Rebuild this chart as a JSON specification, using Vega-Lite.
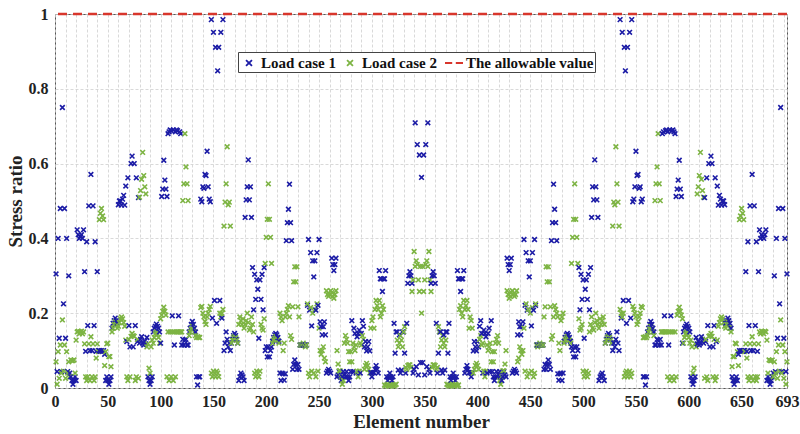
{
"$schema":"https://vega.github.io/schema/vega-lite/v6.json",
"width":732,"height":374,
"autosize":{"type":"none"},
"padding":{"left":55,"top":14,"right":13,"bottom":46},
"config":{"view":{"stroke":"#555","strokeWidth":1},"font":"Liberation Serif"},
"layer":[
{"data":{"values":[
{"e":1,"a":0.305,"b":0.07},{"e":2,"a":0.044,"b":0.01},{"e":3,"a":0.4,"b":0.097},{"e":4,"a":0.133,"b":0.026},{"e":5,"a":0.48,"b":0.115},{"e":6,"a":0.044,"b":0.04},{"e":7,"a":0.75,"b":0.182},{"e":8,"a":0.225,"b":0.045},{"e":9,"a":0.48,"b":0.115},{"e":10,"a":0.133,"b":0.026},
{"e":11,"a":0.4,"b":0.097},{"e":12,"a":0.044,"b":0.04},{"e":13,"a":0.3,"b":0.07},{"e":14,"a":0.04,"b":0.03},{"e":15,"a":0.03,"b":0.075},{"e":16,"a":0.02,"b":0.073},{"e":17,"a":0.01,"b":0.073},{"e":18,"a":0.02,"b":0.075},{"e":19,"a":0.03,"b":0.04},{"e":20,"a":0.02,"b":0.128},
{"e":21,"a":0.423,"b":0.15},{"e":22,"a":0.41,"b":0.152},{"e":23,"a":0.4,"b":0.145},{"e":24,"a":0.405,"b":0.15},{"e":25,"a":0.41,"b":0.152},{"e":26,"a":0.4,"b":0.145},{"e":27,"a":0.423,"b":0.15},{"e":28,"a":0.311,"b":0.118},{"e":29,"a":0.098,"b":0.03},{"e":30,"a":0.391,"b":0.02},
{"e":31,"a":0.167,"b":0.03},{"e":32,"a":0.487,"b":0.118},{"e":33,"a":0.1,"b":0.02},{"e":34,"a":0.571,"b":0.137},{"e":35,"a":0.1,"b":0.03},{"e":36,"a":0.487,"b":0.118},{"e":37,"a":0.167,"b":0.02},{"e":38,"a":0.391,"b":0.03},{"e":39,"a":0.098,"b":0.08},{"e":40,"a":0.311,"b":0.118},
{"e":41,"a":0.1,"b":0.097},{"e":42,"a":0.1,"b":0.45},{"e":43,"a":0.098,"b":0.467},{"e":44,"a":0.1,"b":0.48},{"e":45,"a":0.098,"b":0.46},{"e":46,"a":0.1,"b":0.45},{"e":47,"a":0.09,"b":0.06},{"e":48,"a":0.02,"b":0.097},{"e":49,"a":0.03,"b":0.118},{"e":50,"a":0.02,"b":0.12},
{"e":51,"a":0.01,"b":0.084},{"e":52,"a":0.02,"b":0.084},{"e":53,"a":0.03,"b":0.057},{"e":54,"a":0.16,"b":0.15},{"e":55,"a":0.173,"b":0.16},{"e":56,"a":0.18,"b":0.17},{"e":57,"a":0.187,"b":0.178},{"e":58,"a":0.18,"b":0.17},{"e":59,"a":0.173,"b":0.16},{"e":60,"a":0.49,"b":0.165},
{"e":61,"a":0.5,"b":0.175},{"e":62,"a":0.5,"b":0.185},{"e":63,"a":0.489,"b":0.19},{"e":64,"a":0.505,"b":0.185},{"e":65,"a":0.515,"b":0.175},{"e":66,"a":0.489,"b":0.165},{"e":67,"a":0.54,"b":0.128},{"e":68,"a":0.124,"b":0.03},{"e":69,"a":0.562,"b":0.02},{"e":70,"a":0.167,"b":0.13},
{"e":71,"a":0.11,"b":0.03},{"e":72,"a":0.6,"b":0.138},{"e":73,"a":0.62,"b":0.146},{"e":74,"a":0.11,"b":0.14},{"e":75,"a":0.6,"b":0.138},{"e":76,"a":0.167,"b":0.02},{"e":77,"a":0.562,"b":0.03},{"e":78,"a":0.124,"b":0.13},{"e":79,"a":0.509,"b":0.026},{"e":80,"a":0.12,"b":0.51},
{"e":81,"a":0.13,"b":0.528},{"e":82,"a":0.137,"b":0.558},{"e":83,"a":0.12,"b":0.63},{"e":84,"a":0.115,"b":0.568},{"e":85,"a":0.125,"b":0.538},{"e":86,"a":0.118,"b":0.519},{"e":87,"a":0.135,"b":0.11},{"e":88,"a":0.03,"b":0.118},{"e":89,"a":0.02,"b":0.053},{"e":90,"a":0.01,"b":0.04},
{"e":91,"a":0.02,"b":0.11},{"e":92,"a":0.03,"b":0.128},{"e":93,"a":0.15,"b":0.12},{"e":94,"a":0.16,"b":0.135},{"e":95,"a":0.165,"b":0.145},{"e":96,"a":0.171,"b":0.15},{"e":97,"a":0.165,"b":0.145},{"e":98,"a":0.16,"b":0.135},{"e":99,"a":0.15,"b":0.12},{"e":100,"a":0.12,"b":0.185},
{"e":101,"a":0.512,"b":0.195},{"e":102,"a":0.532,"b":0.205},{"e":103,"a":0.609,"b":0.216},{"e":104,"a":0.556,"b":0.205},{"e":105,"a":0.532,"b":0.195},{"e":106,"a":0.512,"b":0.03},{"e":107,"a":0.68,"b":0.15},{"e":108,"a":0.685,"b":0.02},{"e":109,"a":0.69,"b":0.15},{"e":110,"a":0.688,"b":0.03},
{"e":111,"a":0.193,"b":0.15},{"e":112,"a":0.69,"b":0.02},{"e":113,"a":0.115,"b":0.15},{"e":114,"a":0.685,"b":0.03},{"e":115,"a":0.69,"b":0.15},{"e":116,"a":0.688,"b":0.15},{"e":117,"a":0.193,"b":0.15},{"e":118,"a":0.685,"b":0.15},{"e":119,"a":0.68,"b":0.15},{"e":120,"a":0.115,"b":0.15},
{"e":121,"a":0.13,"b":0.501},{"e":122,"a":0.115,"b":0.546},{"e":123,"a":0.128,"b":0.68},{"e":124,"a":0.13,"b":0.591},{"e":125,"a":0.115,"b":0.546},{"e":126,"a":0.115,"b":0.501},{"e":127,"a":0.15,"b":0.14},{"e":128,"a":0.16,"b":0.15},{"e":129,"a":0.17,"b":0.158},{"e":130,"a":0.178,"b":0.165},
{"e":131,"a":0.17,"b":0.158},{"e":132,"a":0.16,"b":0.15},{"e":133,"a":0.15,"b":0.14},{"e":134,"a":0.03,"b":0.135},{"e":135,"a":0.008,"b":0.137},{"e":136,"a":0.03,"b":0.135},{"e":137,"a":0.03,"b":0.135},{"e":138,"a":0.505,"b":0.215},{"e":139,"a":0.498,"b":0.218},{"e":140,"a":0.538,"b":0.2},
{"e":141,"a":0.534,"b":0.19},{"e":142,"a":0.571,"b":0.178},{"e":143,"a":0.568,"b":0.17},{"e":144,"a":0.633,"b":0.19},{"e":145,"a":0.538,"b":0.2},{"e":146,"a":0.505,"b":0.21},{"e":147,"a":0.498,"b":0.218},{"e":148,"a":0.985,"b":0.04},{"e":149,"a":0.187,"b":0.03},{"e":150,"a":0.951,"b":0.045},
{"e":151,"a":0.234,"b":0.04},{"e":152,"a":0.911,"b":0.03},{"e":153,"a":0.173,"b":0.045},{"e":154,"a":0.848,"b":0.04},{"e":155,"a":0.911,"b":0.03},{"e":156,"a":0.234,"b":0.2},{"e":157,"a":0.951,"b":0.19},{"e":158,"a":0.187,"b":0.2},{"e":159,"a":0.985,"b":0.21},{"e":160,"a":0.1,"b":0.433},
{"e":161,"a":0.12,"b":0.497},{"e":162,"a":0.15,"b":0.546},{"e":163,"a":0.13,"b":0.645},{"e":164,"a":0.11,"b":0.49},{"e":165,"a":0.12,"b":0.497},{"e":166,"a":0.1,"b":0.433},{"e":167,"a":0.12,"b":0.12},{"e":168,"a":0.13,"b":0.128},{"e":169,"a":0.14,"b":0.135},{"e":170,"a":0.146,"b":0.138},
{"e":171,"a":0.14,"b":0.135},{"e":172,"a":0.13,"b":0.128},{"e":173,"a":0.12,"b":0.12},{"e":174,"a":0.02,"b":0.17},{"e":175,"a":0.03,"b":0.19},{"e":176,"a":0.04,"b":0.18},{"e":177,"a":0.035,"b":0.17},{"e":178,"a":0.03,"b":0.185},{"e":179,"a":0.02,"b":0.16},{"e":180,"a":0.456,"b":0.17},
{"e":181,"a":0.503,"b":0.18},{"e":182,"a":0.538,"b":0.2},{"e":183,"a":0.61,"b":0.175},{"e":184,"a":0.503,"b":0.155},{"e":185,"a":0.538,"b":0.16},{"e":186,"a":0.456,"b":0.19},{"e":187,"a":0.322,"b":0.17},{"e":188,"a":0.209,"b":0.15},{"e":189,"a":0.304,"b":0.04},{"e":190,"a":0.237,"b":0.03},
{"e":191,"a":0.289,"b":0.045},{"e":192,"a":0.264,"b":0.04},{"e":193,"a":0.133,"b":0.03},{"e":194,"a":0.289,"b":0.045},{"e":195,"a":0.237,"b":0.17},{"e":196,"a":0.304,"b":0.16},{"e":197,"a":0.209,"b":0.155},{"e":198,"a":0.322,"b":0.185},{"e":199,"a":0.1,"b":0.333},{"e":200,"a":0.11,"b":0.403},
{"e":201,"a":0.083,"b":0.451},{"e":202,"a":0.11,"b":0.546},{"e":203,"a":0.083,"b":0.451},{"e":204,"a":0.1,"b":0.403},{"e":205,"a":0.11,"b":0.333},{"e":206,"a":0.125,"b":0.12},{"e":207,"a":0.135,"b":0.128},{"e":208,"a":0.142,"b":0.133},{"e":209,"a":0.146,"b":0.138},{"e":210,"a":0.142,"b":0.133},
{"e":211,"a":0.135,"b":0.128},{"e":212,"a":0.125,"b":0.12},{"e":213,"a":0.04,"b":0.2},{"e":214,"a":0.02,"b":0.19},{"e":215,"a":0.04,"b":0.18},{"e":216,"a":0.038,"b":0.1},{"e":217,"a":0.021,"b":0.12},{"e":218,"a":0.038,"b":0.19},{"e":219,"a":0.394,"b":0.2},{"e":220,"a":0.442,"b":0.21},
{"e":221,"a":0.478,"b":0.22},{"e":222,"a":0.545,"b":0.19},{"e":223,"a":0.442,"b":0.14},{"e":224,"a":0.394,"b":0.13},{"e":225,"a":0.05,"b":0.217},{"e":226,"a":0.063,"b":0.284},{"e":227,"a":0.075,"b":0.324},{"e":228,"a":0.063,"b":0.284},{"e":229,"a":0.05,"b":0.324},{"e":230,"a":0.063,"b":0.217},
{"e":231,"a":0.05,"b":0.19},{"e":232,"a":0.115,"b":0.115},{"e":233,"a":0.115,"b":0.115},{"e":234,"a":0.115,"b":0.115},{"e":235,"a":0.115,"b":0.12},{"e":236,"a":0.115,"b":0.115},{"e":237,"a":0.115,"b":0.11},{"e":238,"a":0.115,"b":0.115},{"e":239,"a":0.221,"b":0.225},{"e":240,"a":0.397,"b":0.04},
{"e":241,"a":0.208,"b":0.03},{"e":242,"a":0.362,"b":0.215},{"e":243,"a":0.166,"b":0.045},{"e":244,"a":0.34,"b":0.2},{"e":245,"a":0.297,"b":0.04},{"e":246,"a":0.34,"b":0.21},{"e":247,"a":0.208,"b":0.03},{"e":248,"a":0.362,"b":0.225},{"e":249,"a":0.221,"b":0.045},{"e":250,"a":0.397,"b":0.16},
{"e":251,"a":0.177,"b":0.1},{"e":252,"a":0.164,"b":0.09},{"e":253,"a":0.142,"b":0.1},{"e":254,"a":0.164,"b":0.11},{"e":255,"a":0.177,"b":0.08},{"e":256,"a":0.142,"b":0.07},{"e":257,"a":0.04,"b":0.26},{"e":258,"a":0.045,"b":0.25},{"e":259,"a":0.05,"b":0.245},{"e":260,"a":0.045,"b":0.25},
{"e":261,"a":0.04,"b":0.26},{"e":262,"a":0.347,"b":0.255},{"e":263,"a":0.33,"b":0.245},{"e":264,"a":0.314,"b":0.24},{"e":265,"a":0.33,"b":0.25},{"e":266,"a":0.347,"b":0.26},{"e":267,"a":0.03,"b":0.1},{"e":268,"a":0.035,"b":0.064},{"e":269,"a":0.044,"b":0.046},{"e":270,"a":0.03,"b":0.046},
{"e":271,"a":0.02,"b":0.03},{"e":272,"a":0.03,"b":0.01},{"e":273,"a":0.044,"b":0.02},{"e":274,"a":0.035,"b":0.12},{"e":275,"a":0.03,"b":0.14},{"e":276,"a":0.044,"b":0.13},{"e":277,"a":0.03,"b":0.12},{"e":278,"a":0.02,"b":0.097},{"e":279,"a":0.03,"b":0.07},{"e":280,"a":0.044,"b":0.097},
{"e":281,"a":0.18,"b":0.07},{"e":282,"a":0.044,"b":0.12},{"e":283,"a":0.16,"b":0.11},{"e":284,"a":0.146,"b":0.1},{"e":285,"a":0.04,"b":0.115},{"e":286,"a":0.137,"b":0.045},{"e":287,"a":0.146,"b":0.03},{"e":288,"a":0.155,"b":0.045},{"e":289,"a":0.04,"b":0.12},{"e":290,"a":0.146,"b":0.115},
{"e":291,"a":0.18,"b":0.14},{"e":292,"a":0.165,"b":0.13},{"e":293,"a":0.11,"b":0.05},{"e":294,"a":0.124,"b":0.06},{"e":295,"a":0.099,"b":0.066},{"e":296,"a":0.11,"b":0.06},{"e":297,"a":0.124,"b":0.05},{"e":298,"a":0.099,"b":0.04},{"e":299,"a":0.041,"b":0.16},{"e":300,"a":0.03,"b":0.18},
{"e":301,"a":0.041,"b":0.19},{"e":302,"a":0.041,"b":0.16},{"e":303,"a":0.05,"b":0.21},{"e":304,"a":0.06,"b":0.234},{"e":305,"a":0.05,"b":0.22},{"e":306,"a":0.04,"b":0.21},{"e":307,"a":0.314,"b":0.234},{"e":308,"a":0.292,"b":0.19},{"e":309,"a":0.292,"b":0.2},{"e":310,"a":0.258,"b":0.22},
{"e":311,"a":0.292,"b":0.21},{"e":312,"a":0.292,"b":0.008},{"e":313,"a":0.314,"b":0.005},{"e":314,"a":0.03,"b":0.008},{"e":315,"a":0.02,"b":0.01},{"e":316,"a":0.03,"b":0.005},{"e":317,"a":0.04,"b":0.008},{"e":318,"a":0.03,"b":0.01},{"e":319,"a":0.02,"b":0.006},{"e":320,"a":0.03,"b":0.008},
{"e":321,"a":0.173,"b":0.005},{"e":322,"a":0.093,"b":0.008},{"e":323,"a":0.15,"b":0.01},{"e":324,"a":0.15,"b":0.128},{"e":325,"a":0.048,"b":0.11},{"e":326,"a":0.142,"b":0.12},{"e":327,"a":0.04,"b":0.14},{"e":328,"a":0.048,"b":0.128},{"e":329,"a":0.15,"b":0.11},{"e":330,"a":0.15,"b":0.15},
{"e":331,"a":0.093,"b":0.164},{"e":332,"a":0.04,"b":0.055},{"e":333,"a":0.173,"b":0.05},{"e":334,"a":0.28,"b":0.06},{"e":335,"a":0.3,"b":0.062},{"e":336,"a":0.311,"b":0.062},{"e":337,"a":0.3,"b":0.055},{"e":338,"a":0.28,"b":0.258},{"e":339,"a":0.04,"b":0.289},{"e":340,"a":0.05,"b":0.365},
{"e":341,"a":0.709,"b":0.325},{"e":342,"a":0.057,"b":0.34},{"e":343,"a":0.651,"b":0.33},{"e":344,"a":0.035,"b":0.289},{"e":345,"a":0.623,"b":0.258},{"e":346,"a":0.068,"b":0.325},{"e":347,"a":0.563,"b":0.2},
{"e":348,"a":0.068,"b":0.325},{"e":349,"a":0.623,"b":0.258},{"e":350,"a":0.035,"b":0.289},{"e":351,"a":0.651,"b":0.33},{"e":352,"a":0.057,"b":0.34},{"e":353,"a":0.709,"b":0.325},{"e":354,"a":0.05,"b":0.365},{"e":355,"a":0.04,"b":0.289},{"e":356,"a":0.28,"b":0.258},{"e":357,"a":0.3,"b":0.055},
{"e":358,"a":0.311,"b":0.062},{"e":359,"a":0.3,"b":0.062},{"e":360,"a":0.28,"b":0.06},{"e":361,"a":0.173,"b":0.05},{"e":362,"a":0.04,"b":0.055},{"e":363,"a":0.093,"b":0.164},{"e":364,"a":0.15,"b":0.15},{"e":365,"a":0.15,"b":0.11},{"e":366,"a":0.048,"b":0.128},{"e":367,"a":0.04,"b":0.14},
{"e":368,"a":0.142,"b":0.12},{"e":369,"a":0.048,"b":0.11},{"e":370,"a":0.15,"b":0.128},{"e":371,"a":0.15,"b":0.01},{"e":372,"a":0.093,"b":0.008},{"e":373,"a":0.173,"b":0.005},{"e":374,"a":0.03,"b":0.008},{"e":375,"a":0.02,"b":0.006},{"e":376,"a":0.03,"b":0.01},{"e":377,"a":0.04,"b":0.008},
{"e":378,"a":0.03,"b":0.005},{"e":379,"a":0.02,"b":0.01},{"e":380,"a":0.03,"b":0.008},{"e":381,"a":0.314,"b":0.005},{"e":382,"a":0.292,"b":0.008},{"e":383,"a":0.292,"b":0.21},{"e":384,"a":0.258,"b":0.22},{"e":385,"a":0.292,"b":0.2},{"e":386,"a":0.292,"b":0.19},{"e":387,"a":0.314,"b":0.234},
{"e":388,"a":0.04,"b":0.21},{"e":389,"a":0.05,"b":0.22},{"e":390,"a":0.06,"b":0.234},{"e":391,"a":0.05,"b":0.21},{"e":392,"a":0.041,"b":0.16},{"e":393,"a":0.041,"b":0.19},{"e":394,"a":0.03,"b":0.18},{"e":395,"a":0.041,"b":0.16},{"e":396,"a":0.099,"b":0.04},{"e":397,"a":0.124,"b":0.05},
{"e":398,"a":0.11,"b":0.06},{"e":399,"a":0.099,"b":0.066},{"e":400,"a":0.124,"b":0.06},{"e":401,"a":0.11,"b":0.05},{"e":402,"a":0.165,"b":0.13},{"e":403,"a":0.18,"b":0.14},{"e":404,"a":0.146,"b":0.115},{"e":405,"a":0.04,"b":0.12},{"e":406,"a":0.155,"b":0.045},{"e":407,"a":0.146,"b":0.03},
{"e":408,"a":0.137,"b":0.045},{"e":409,"a":0.04,"b":0.115},{"e":410,"a":0.146,"b":0.1},{"e":411,"a":0.16,"b":0.11},{"e":412,"a":0.044,"b":0.12},{"e":413,"a":0.18,"b":0.07},{"e":414,"a":0.044,"b":0.097},{"e":415,"a":0.03,"b":0.07},{"e":416,"a":0.02,"b":0.097},{"e":417,"a":0.03,"b":0.12},
{"e":418,"a":0.044,"b":0.13},{"e":419,"a":0.03,"b":0.14},{"e":420,"a":0.035,"b":0.12},{"e":421,"a":0.044,"b":0.02},{"e":422,"a":0.03,"b":0.01},{"e":423,"a":0.02,"b":0.03},{"e":424,"a":0.03,"b":0.046},{"e":425,"a":0.044,"b":0.046},{"e":426,"a":0.035,"b":0.064},{"e":427,"a":0.03,"b":0.1},
{"e":428,"a":0.347,"b":0.26},{"e":429,"a":0.33,"b":0.25},{"e":430,"a":0.314,"b":0.24},{"e":431,"a":0.33,"b":0.245},{"e":432,"a":0.347,"b":0.255},{"e":433,"a":0.04,"b":0.26},{"e":434,"a":0.045,"b":0.25},{"e":435,"a":0.05,"b":0.245},{"e":436,"a":0.045,"b":0.25},{"e":437,"a":0.04,"b":0.26},
{"e":438,"a":0.142,"b":0.07},{"e":439,"a":0.177,"b":0.08},{"e":440,"a":0.164,"b":0.11},{"e":441,"a":0.142,"b":0.1},{"e":442,"a":0.164,"b":0.09},{"e":443,"a":0.177,"b":0.1},{"e":444,"a":0.397,"b":0.16},{"e":445,"a":0.221,"b":0.045},{"e":446,"a":0.362,"b":0.225},{"e":447,"a":0.208,"b":0.03},
{"e":448,"a":0.34,"b":0.21},{"e":449,"a":0.297,"b":0.04},{"e":450,"a":0.34,"b":0.2},{"e":451,"a":0.166,"b":0.045},{"e":452,"a":0.362,"b":0.215},{"e":453,"a":0.208,"b":0.03},{"e":454,"a":0.397,"b":0.04},{"e":455,"a":0.221,"b":0.225},{"e":456,"a":0.115,"b":0.115},{"e":457,"a":0.115,"b":0.11},
{"e":458,"a":0.115,"b":0.115},{"e":459,"a":0.115,"b":0.12},{"e":460,"a":0.115,"b":0.115},{"e":461,"a":0.115,"b":0.115},{"e":462,"a":0.115,"b":0.115},{"e":463,"a":0.05,"b":0.19},{"e":464,"a":0.063,"b":0.217},{"e":465,"a":0.05,"b":0.324},{"e":466,"a":0.063,"b":0.284},{"e":467,"a":0.075,"b":0.324},
{"e":468,"a":0.063,"b":0.284},{"e":469,"a":0.05,"b":0.217},{"e":470,"a":0.394,"b":0.13},{"e":471,"a":0.442,"b":0.14},{"e":472,"a":0.545,"b":0.19},{"e":473,"a":0.478,"b":0.22},{"e":474,"a":0.442,"b":0.21},{"e":475,"a":0.394,"b":0.2},{"e":476,"a":0.038,"b":0.19},{"e":477,"a":0.021,"b":0.12},
{"e":478,"a":0.038,"b":0.1},{"e":479,"a":0.04,"b":0.18},{"e":480,"a":0.02,"b":0.19},{"e":481,"a":0.04,"b":0.2},{"e":482,"a":0.125,"b":0.12},{"e":483,"a":0.135,"b":0.128},{"e":484,"a":0.142,"b":0.133},{"e":485,"a":0.146,"b":0.138},{"e":486,"a":0.142,"b":0.133},{"e":487,"a":0.135,"b":0.128},
{"e":488,"a":0.125,"b":0.12},{"e":489,"a":0.11,"b":0.333},{"e":490,"a":0.1,"b":0.403},{"e":491,"a":0.083,"b":0.451},{"e":492,"a":0.11,"b":0.546},{"e":493,"a":0.083,"b":0.451},{"e":494,"a":0.11,"b":0.403},{"e":495,"a":0.1,"b":0.333},{"e":496,"a":0.322,"b":0.185},{"e":497,"a":0.209,"b":0.155},
{"e":498,"a":0.304,"b":0.16},{"e":499,"a":0.237,"b":0.17},{"e":500,"a":0.289,"b":0.045},{"e":501,"a":0.133,"b":0.03},{"e":502,"a":0.264,"b":0.04},{"e":503,"a":0.289,"b":0.045},{"e":504,"a":0.237,"b":0.03},{"e":505,"a":0.304,"b":0.04},{"e":506,"a":0.209,"b":0.15},{"e":507,"a":0.322,"b":0.17},
{"e":508,"a":0.456,"b":0.19},{"e":509,"a":0.538,"b":0.16},{"e":510,"a":0.503,"b":0.155},{"e":511,"a":0.61,"b":0.175},{"e":512,"a":0.538,"b":0.2},{"e":513,"a":0.503,"b":0.18},{"e":514,"a":0.456,"b":0.17},{"e":515,"a":0.02,"b":0.16},{"e":516,"a":0.03,"b":0.185},{"e":517,"a":0.035,"b":0.17},
{"e":518,"a":0.04,"b":0.18},{"e":519,"a":0.03,"b":0.19},{"e":520,"a":0.02,"b":0.17},{"e":521,"a":0.12,"b":0.12},{"e":522,"a":0.13,"b":0.128},{"e":523,"a":0.14,"b":0.135},{"e":524,"a":0.146,"b":0.138},{"e":525,"a":0.14,"b":0.135},{"e":526,"a":0.13,"b":0.128},{"e":527,"a":0.12,"b":0.12},
{"e":528,"a":0.1,"b":0.433},{"e":529,"a":0.12,"b":0.497},{"e":530,"a":0.11,"b":0.49},{"e":531,"a":0.13,"b":0.645},{"e":532,"a":0.15,"b":0.546},{"e":533,"a":0.12,"b":0.497},{"e":534,"a":0.1,"b":0.433},{"e":535,"a":0.985,"b":0.21},{"e":536,"a":0.187,"b":0.2},{"e":537,"a":0.951,"b":0.19},
{"e":538,"a":0.234,"b":0.2},{"e":539,"a":0.911,"b":0.03},{"e":540,"a":0.848,"b":0.04},{"e":541,"a":0.173,"b":0.045},{"e":542,"a":0.911,"b":0.03},{"e":543,"a":0.234,"b":0.04},{"e":544,"a":0.951,"b":0.045},{"e":545,"a":0.187,"b":0.03},{"e":546,"a":0.985,"b":0.04},{"e":547,"a":0.498,"b":0.218},
{"e":548,"a":0.505,"b":0.21},{"e":549,"a":0.538,"b":0.2},{"e":550,"a":0.633,"b":0.19},{"e":551,"a":0.568,"b":0.17},{"e":552,"a":0.571,"b":0.178},{"e":553,"a":0.534,"b":0.19},{"e":554,"a":0.538,"b":0.2},{"e":555,"a":0.498,"b":0.218},{"e":556,"a":0.505,"b":0.215},{"e":557,"a":0.03,"b":0.135},
{"e":558,"a":0.03,"b":0.135},{"e":559,"a":0.008,"b":0.137},{"e":560,"a":0.03,"b":0.135},{"e":561,"a":0.15,"b":0.14},{"e":562,"a":0.16,"b":0.15},{"e":563,"a":0.17,"b":0.158},{"e":564,"a":0.178,"b":0.165},{"e":565,"a":0.17,"b":0.158},{"e":566,"a":0.16,"b":0.15},{"e":567,"a":0.15,"b":0.14},
{"e":568,"a":0.115,"b":0.501},{"e":569,"a":0.115,"b":0.546},{"e":570,"a":0.13,"b":0.591},{"e":571,"a":0.128,"b":0.68},{"e":572,"a":0.115,"b":0.546},{"e":573,"a":0.13,"b":0.501},{"e":574,"a":0.115,"b":0.15},{"e":575,"a":0.68,"b":0.15},{"e":576,"a":0.685,"b":0.15},{"e":577,"a":0.193,"b":0.15},
{"e":578,"a":0.688,"b":0.15},{"e":579,"a":0.69,"b":0.15},{"e":580,"a":0.685,"b":0.03},{"e":581,"a":0.115,"b":0.15},{"e":582,"a":0.69,"b":0.02},{"e":583,"a":0.193,"b":0.15},{"e":584,"a":0.688,"b":0.03},{"e":585,"a":0.69,"b":0.15},{"e":586,"a":0.685,"b":0.02},{"e":587,"a":0.68,"b":0.15},
{"e":588,"a":0.512,"b":0.03},{"e":589,"a":0.532,"b":0.195},{"e":590,"a":0.556,"b":0.205},{"e":591,"a":0.609,"b":0.216},{"e":592,"a":0.532,"b":0.205},{"e":593,"a":0.512,"b":0.195},{"e":594,"a":0.12,"b":0.185},{"e":595,"a":0.15,"b":0.12},{"e":596,"a":0.16,"b":0.135},{"e":597,"a":0.165,"b":0.145},
{"e":598,"a":0.171,"b":0.15},{"e":599,"a":0.165,"b":0.145},{"e":600,"a":0.16,"b":0.135},{"e":601,"a":0.15,"b":0.12},{"e":602,"a":0.03,"b":0.128},{"e":603,"a":0.02,"b":0.11},{"e":604,"a":0.01,"b":0.04},{"e":605,"a":0.02,"b":0.053},{"e":606,"a":0.03,"b":0.118},{"e":607,"a":0.135,"b":0.11},
{"e":608,"a":0.118,"b":0.519},{"e":609,"a":0.125,"b":0.538},{"e":610,"a":0.115,"b":0.568},{"e":611,"a":0.12,"b":0.63},{"e":612,"a":0.137,"b":0.558},{"e":613,"a":0.13,"b":0.528},{"e":614,"a":0.12,"b":0.51},{"e":615,"a":0.509,"b":0.026},{"e":616,"a":0.124,"b":0.13},{"e":617,"a":0.562,"b":0.03},
{"e":618,"a":0.167,"b":0.02},{"e":619,"a":0.6,"b":0.138},{"e":620,"a":0.11,"b":0.14},{"e":621,"a":0.62,"b":0.146},{"e":622,"a":0.6,"b":0.138},{"e":623,"a":0.11,"b":0.03},{"e":624,"a":0.167,"b":0.13},{"e":625,"a":0.562,"b":0.02},{"e":626,"a":0.124,"b":0.03},{"e":627,"a":0.54,"b":0.128},
{"e":628,"a":0.489,"b":0.165},{"e":629,"a":0.515,"b":0.175},{"e":630,"a":0.505,"b":0.185},{"e":631,"a":0.489,"b":0.19},{"e":632,"a":0.5,"b":0.185},{"e":633,"a":0.5,"b":0.175},{"e":634,"a":0.49,"b":0.165},{"e":635,"a":0.173,"b":0.16},{"e":636,"a":0.18,"b":0.17},{"e":637,"a":0.187,"b":0.178},
{"e":638,"a":0.18,"b":0.17},{"e":639,"a":0.173,"b":0.16},{"e":640,"a":0.16,"b":0.15},{"e":641,"a":0.03,"b":0.057},{"e":642,"a":0.02,"b":0.084},{"e":643,"a":0.01,"b":0.084},{"e":644,"a":0.02,"b":0.12},{"e":645,"a":0.03,"b":0.118},{"e":646,"a":0.02,"b":0.097},{"e":647,"a":0.09,"b":0.06},
{"e":648,"a":0.1,"b":0.45},{"e":649,"a":0.098,"b":0.46},{"e":650,"a":0.1,"b":0.48},{"e":651,"a":0.098,"b":0.467},{"e":652,"a":0.1,"b":0.45},{"e":653,"a":0.1,"b":0.097},{"e":654,"a":0.311,"b":0.118},{"e":655,"a":0.098,"b":0.08},{"e":656,"a":0.391,"b":0.03},{"e":657,"a":0.167,"b":0.02},
{"e":658,"a":0.487,"b":0.118},{"e":659,"a":0.1,"b":0.03},{"e":660,"a":0.571,"b":0.137},{"e":661,"a":0.1,"b":0.02},{"e":662,"a":0.487,"b":0.118},{"e":663,"a":0.167,"b":0.03},{"e":664,"a":0.391,"b":0.02},{"e":665,"a":0.098,"b":0.03},{"e":666,"a":0.311,"b":0.118},{"e":667,"a":0.423,"b":0.15},
{"e":668,"a":0.4,"b":0.145},{"e":669,"a":0.41,"b":0.152},{"e":670,"a":0.405,"b":0.15},{"e":671,"a":0.4,"b":0.145},{"e":672,"a":0.41,"b":0.152},{"e":673,"a":0.423,"b":0.15},{"e":674,"a":0.02,"b":0.128},{"e":675,"a":0.03,"b":0.04},{"e":676,"a":0.02,"b":0.075},{"e":677,"a":0.01,"b":0.073},
{"e":678,"a":0.02,"b":0.073},{"e":679,"a":0.03,"b":0.075},{"e":680,"a":0.04,"b":0.03},{"e":681,"a":0.3,"b":0.07},{"e":682,"a":0.044,"b":0.04},{"e":683,"a":0.4,"b":0.097},{"e":684,"a":0.133,"b":0.026},{"e":685,"a":0.48,"b":0.115},{"e":686,"a":0.225,"b":0.045},{"e":687,"a":0.75,"b":0.182},
{"e":688,"a":0.044,"b":0.04},{"e":689,"a":0.48,"b":0.115},{"e":690,"a":0.133,"b":0.026},{"e":691,"a":0.4,"b":0.097},{"e":692,"a":0.044,"b":0.01},{"e":693,"a":0.305,"b":0.07}
]},
"transform":[{"fold":["a","b"],"as":["series","ratio"]}],
"mark":{"type":"point","filled":false,"strokeWidth":1.6,"size":200,"opacity":1},
"encoding":{
"x":{"field":"e","type":"quantitative","title":"Element number","scale":{"domain":[0,693],"nice":false,"zero":false},
"axis":{"values":[0,10,20,30,40,50,60,70,80,90,100,110,120,130,140,150,160,170,180,190,200,210,220,230,240,250,260,270,280,290,300,310,320,330,340,350,360,370,380,390,400,410,420,430,440,450,460,470,480,490,500,510,520,530,540,550,560,570,580,590,600,610,620,630,640,650,660,670,680,690,693],
"labelExpr":"(datum.value % 50 == 0 || datum.value == 693) ? datum.label : ''","format":"d","labelOverlap":false,"labelFlush":false,
"grid":true,"gridColor":"#cfcfcf","gridDash":[3,2],"gridWidth":0.8,"ticks":false,"domain":false,
"labelFont":"Liberation Serif","labelFontWeight":"bold","labelFontSize":16,"labelColor":"#222","labelPadding":5,
"titleFont":"Liberation Serif","titleFontWeight":"bold","titleFontSize":19,"titleColor":"#222","titlePadding":3}},
"y":{"field":"ratio","type":"quantitative","title":"Stress ratio","scale":{"domain":[0,1],"nice":false},
"axis":{"values":[0,0.05,0.1,0.15,0.2,0.25,0.3,0.35,0.4,0.45,0.5,0.55,0.6,0.65,0.7,0.75,0.8,0.85,0.9,0.95,1],
"labelExpr":"abs(datum.value*5 - round(datum.value*5)) < 0.001 ? datum.label : ''","format":".1~f","labelOverlap":false,"labelFlush":false,
"grid":true,"gridColor":"#cfcfcf","gridDash":[3,2],"gridWidth":0.8,"ticks":false,"domain":false,
"labelFont":"Liberation Serif","labelFontWeight":"bold","labelFontSize":16,"labelColor":"#222","labelPadding":7,
"titleFont":"Liberation Serif","titleFontWeight":"bold","titleFontSize":19,"titleColor":"#222","titlePadding":3}},
"color":{"field":"series","type":"nominal","scale":{"domain":["a","b","c"],"range":["#1c1ca6","#7db443","#d8362c"]},
"legend":{"orient":"none","legendX":183,"legendY":38,"direction":"horizontal","title":null,
"labelExpr":"datum.value == 'a' ? 'Load case 1' : (datum.value == 'b' ? 'Load case 2' : 'The allowable value')",
"labelFont":"Liberation Serif","labelFontWeight":"bold","labelFontSize":15,"labelColor":"#111","symbolSize":324,"symbolStrokeWidth":1.8,"symbolOpacity":1,
"strokeColor":"#444","fillColor":"white","padding":1,"columnPadding":4,"labelOffset":2}},
"shape":{"field":"series","type":"nominal","scale":{"domain":["a","b","c"],"range":["M-0.33,-0.33L0.33,0.33M-0.33,0.33L0.33,-0.33","M-0.33,-0.33L0.33,0.33M-0.33,0.33L0.33,-0.33","M-1,0H-0.2M0.2,0H1"]},
"legend":{"orient":"none","legendX":183,"legendY":38,"direction":"horizontal","title":null,
"labelExpr":"datum.value == 'a' ? 'Load case 1' : (datum.value == 'b' ? 'Load case 2' : 'The allowable value')",
"labelFont":"Liberation Serif","labelFontWeight":"bold","labelFontSize":15,"labelColor":"#111","symbolSize":324,"symbolStrokeWidth":1.8,"symbolOpacity":1,
"strokeColor":"#444","fillColor":"white","padding":1,"columnPadding":4,"labelOffset":2}}
}},
{"data":{"values":[{"limit":1,"series":"c"}]},
"mark":{"type":"rule","strokeDash":[9,6],"strokeWidth":2.5},
"encoding":{"y":{"field":"limit","type":"quantitative"},"color":{"field":"series","type":"nominal"}}}
]
}
